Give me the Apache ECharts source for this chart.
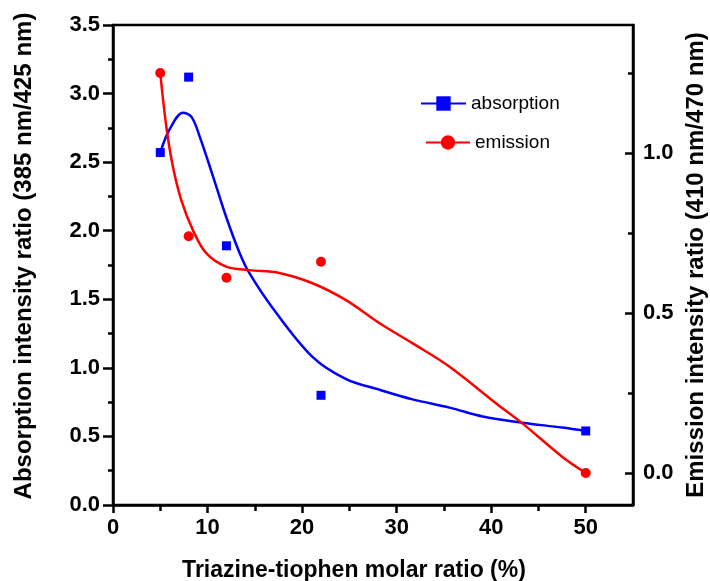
<!DOCTYPE html>
<html>
<head>
<meta charset="utf-8">
<script src="https://cdn.jsdelivr.net/npm/echarts@6/dist/echarts.min.js"></script>
<style>html,body{margin:0;padding:0;background:#fff;}#c{width:710px;height:581px;}</style>
</head>
<body>
<div id="c"></div>
<script>
// Measured points
const absX = [5, 8, 12, 22, 50];
const absY = [2.57, 3.12, 1.89, 0.80, 0.54];
const emiX = [5, 8, 12, 22, 50];
const emiY = [1.25, 0.74, 0.61, 0.66, 0.0];

// Fitted curves
const absFitX = [5, 6.0, 7.4, 8.3, 9.15, 10.56, 11.97, 13.38, 14.43, 16.9, 21.1, 24.6, 28.2, 31.7, 35.6, 39.1, 43.3, 47.5, 50];
const absFitY = [2.57, 2.74, 2.86, 2.83, 2.69, 2.40, 2.10, 1.84, 1.69, 1.435, 1.08, 0.92, 0.84, 0.77, 0.71, 0.645, 0.60, 0.565, 0.54];
const emiFitX = [5, 5.64, 6.34, 7.22, 8.45, 9.86, 11.97, 14.43, 17.6, 21.1, 24.6, 28.2, 31.7, 35.6, 40.5, 43.3, 47.5, 50];
const emiFitY = [1.25, 1.082, 0.957, 0.853, 0.759, 0.687, 0.645, 0.634, 0.625, 0.593, 0.541, 0.468, 0.405, 0.332, 0.218, 0.155, 0.051, 0.0];

// Tick labels
const xMajor = [0, 10, 20, 30, 40, 50];
const xMinor = [5, 15, 25, 35, 45];
const rMajor = [0, 0.5, 1.0];
const rMinor = [0.25, 0.75, 1.25];

const zip = (a, b) => a.map((v, i) => [v, b[i]]);
const FONT = 'Liberation Sans, Arial, sans-serif';
const BLUE = '#0000ff', RED = '#ff0000';
const tickLine = { color: '#000', width: 2.5 };
const labelStyle = { color: '#000', fontFamily: FONT, fontWeight: 'bold', fontSize: 22 };
const tickAxisX = (vals, len) => ({ type: 'value', min: 0, max: 55, position: 'bottom', gridIndex: 0,
  axisLine: { show: false, onZero: false },
  axisTick: { show: true, customValues: vals, length: len, lineStyle: tickLine },
  axisLabel: { show: false }, splitLine: { show: false } });
const tickAxisR = (vals, len) => ({ type: 'value', min: -0.1, max: 1.4, position: 'right', gridIndex: 0,
  axisLine: { show: false, onZero: false },
  axisTick: { show: true, inside: true, customValues: vals, length: len, lineStyle: tickLine },
  axisLabel: { show: false }, splitLine: { show: false } });

const chart = echarts.init(document.getElementById('c'), null, { renderer: 'canvas' });
chart.setOption({
  animation: false,
  backgroundColor: '#fff',
  grid: { left: 113, right: 77, top: 25, bottom: 76, show: true, borderColor: '#000', borderWidth: 2.5,
          containLabel: false, outerBoundsMode: 'none' },
  legend: [
    { data: ['absorption'], left: 415, top: 89, padding: 5, itemWidth: 45, itemHeight: 18, itemGap: 4,
      textStyle: { fontFamily: FONT, fontSize: 19, color: '#000' } },
    { data: ['emission'], left: 420, top: 128, padding: 5, itemWidth: 44, itemHeight: 18, itemGap: 4,
      textStyle: { fontFamily: FONT, fontSize: 19, color: '#000' } }
  ],
  xAxis: [
    { type: 'value', min: 0, max: 55, position: 'bottom',
      name: 'Triazine-tiophen molar ratio (%)', nameLocation: 'middle', nameGap: 54,
      nameTextStyle: { fontFamily: FONT, fontWeight: 'bold', fontSize: 23, color: '#000', padding: [0, 38, 0, 0] },
      axisLine: { show: true, onZero: false, lineStyle: tickLine },
      axisTick: { show: false },
      axisLabel: Object.assign({ customValues: xMajor, margin: 12 }, labelStyle),
      splitLine: { show: false } },
    tickAxisX(xMajor, 8),
    tickAxisX(xMinor, 6)
  ],
  yAxis: [
    { type: 'value', min: 0, max: 3.5, interval: 0.5, position: 'left',
      name: 'Absorption intensity ratio (385 nm/425 nm)', nameLocation: 'middle', nameGap: 77,
      nameTextStyle: { fontFamily: FONT, fontWeight: 'bold', fontSize: 24, color: '#000', padding: [0, 0, 0, 18] },
      axisLine: { show: true, onZero: false, lineStyle: tickLine },
      axisTick: { show: true, length: 10, lineStyle: tickLine },
      minorTick: { show: true, splitNumber: 2, length: 5, lineStyle: tickLine },
      axisLabel: Object.assign({ margin: 13, formatter: v => v.toFixed(1) }, labelStyle),
      splitLine: { show: false } },
    { type: 'value', min: -0.1, max: 1.4, position: 'right',
      name: 'Emission intensity ratio (410 nm/470 nm)', nameLocation: 'middle', nameGap: 43,
      nameTextStyle: { fontFamily: FONT, fontWeight: 'bold', fontSize: 24, color: '#000' },
      axisLine: { show: true, onZero: false, lineStyle: tickLine },
      axisTick: { show: false },
      axisLabel: Object.assign({ customValues: rMajor, margin: 10, formatter: v => v.toFixed(1) }, labelStyle),
      splitLine: { show: false } },
    tickAxisR(rMajor, 8),
    tickAxisR(rMinor, 5)
  ],
  series: [
    { name: 'absorption', type: 'line', xAxisIndex: 0, yAxisIndex: 0, data: zip(absFitX, absFitY),
      smooth: 0.35, showSymbol: false, symbol: 'rect', symbolSize: 14,
      lineStyle: { color: BLUE, width: 2.5 }, itemStyle: { color: BLUE, opacity: 1 }, z: 2 },
    { name: 'emission', type: 'line', xAxisIndex: 0, yAxisIndex: 1, data: zip(emiFitX, emiFitY),
      smooth: 0.35, showSymbol: false, symbol: 'circle', symbolSize: 14,
      lineStyle: { color: RED, width: 2.5 }, itemStyle: { color: RED, opacity: 1 }, z: 2 },
    { name: 'absorption', type: 'scatter', xAxisIndex: 0, yAxisIndex: 0, data: zip(absX, absY),
      symbol: 'rect', symbolSize: 9, itemStyle: { color: BLUE, opacity: 1 }, z: 3 },
    { name: 'emission', type: 'scatter', xAxisIndex: 0, yAxisIndex: 1, data: zip(emiX, emiY),
      symbol: 'circle', symbolSize: 10, itemStyle: { color: RED, opacity: 1 }, z: 3 }
  ]
});
</script>
</body>
</html>
